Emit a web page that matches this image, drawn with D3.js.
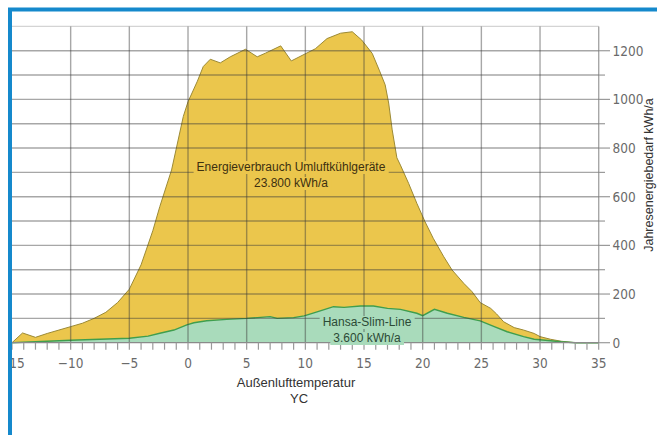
<!DOCTYPE html>
<html>
<head>
<meta charset="utf-8">
<script src="https://cdn.jsdelivr.net/npm/d3@7"></script>
<style>
  body { margin: 0; background: #fff; }
  .tick-num { font-family: "Liberation Sans Narrow", "DejaVu Sans Condensed", "Roboto Condensed", sans-serif; font-stretch: condensed; }
</style>
</head>
<body>
<div id="chart"></div>
<script>
// Umluftkühlgeräte (yellow): temperature / kWh per year
const yellowTemps = [-15, -14.1, -13, -12, -11, -10, -9, -8, -7, -6, -5, -4, -3, -2.4, -1.4, -0.4, 0, 0.8, 1.3, 1.9, 2.75, 3.6, 4.9, 5.9, 6.6, 7.9, 8.8, 9.9, 10.85, 11.85, 13, 14, 14.8, 15.7, 16.3, 16.8, 17.1, 17.4, 17.8, 18.1, 18.8, 19.5, 20.2, 20.9, 21.8, 22.5, 23.5, 24.2, 24.9, 25.8, 26.3, 26.9, 27.8, 28.6, 29.5, 30, 30.9, 31.8, 32.6, 33, 35];
const yellowValues = [0, 40, 22, 38, 52, 66, 80, 100, 125, 165, 220, 320, 460, 560, 710, 930, 990, 1075, 1135, 1165, 1150, 1175, 1206, 1175, 1190, 1220, 1158, 1185, 1208, 1250, 1272, 1278, 1244, 1189, 1120, 1060, 985, 875, 760, 730, 655, 573, 497, 429, 353, 299, 244, 210, 165, 141, 118, 86, 62, 52, 38, 25, 14, 6, 2, 0, 0];

// Hansa-Slim-Line (green)
const greenTemps = [-15, -10, -5, -3.4, -2.4, -1.2, -0.1, 0.5, 1.6, 3.3, 5, 7, 7.6, 9, 9.9, 11, 12.4, 13.3, 14.7, 15.8, 17, 18.1, 19.5, 20, 21, 22.1, 23.5, 24.9, 26.1, 27.2, 28.6, 29.5, 30, 30.9, 31.8, 33, 35];
const greenValues = [0, 10, 18, 27, 39, 52, 73, 82, 90, 96, 100, 107, 100, 103, 110, 127, 148, 145, 151, 151, 141, 137, 121, 111, 137, 121, 104, 90, 66, 45, 25, 14, 12, 8, 4, 0, 0];

const xTicks = [-15, -10, -5, 0, 5, 10, 15, 20, 25, 30, 35];
const yTicks = [0, 200, 400, 600, 800, 1000, 1200];

const width = 657, height = 435;
const svg = d3.select("#chart").append("svg")
    .attr("width", width)
    .attr("height", height);

const x = d3.scaleLinear().domain([-15, 35]).range([12, 598.7]);
const y = d3.scaleLinear().domain([0, 1300]).range([342.7, 26.4]);

const yellow = yellowTemps.map((t, i) => ({ t, v: yellowValues[i] }));
const green = greenTemps.map((t, i) => ({ t, v: greenValues[i] }));

const area = d3.area().x(d => x(d.t)).y0(y(0)).y1(d => y(d.v));
const line = d3.line().x(d => x(d.t)).y(d => y(d.v));

// filled areas
svg.append("path").datum(yellow).attr("d", area).attr("fill", "#ebc64c");
svg.append("path").datum(yellow).attr("d", line)
    .attr("fill", "none").attr("stroke", "#9c8a35").attr("stroke-width", 1);
svg.append("path").datum(green).attr("d", area).attr("fill", "#a9dbbb");
svg.append("path").datum(green).attr("d", line)
    .attr("fill", "none").attr("stroke", "#3f9e4e").attr("stroke-width", 1.4);

// grid on top of the areas
const gridColor = "rgba(60,60,60,0.45)";
const grid = svg.append("g");
grid.selectAll(".h").data(d3.range(100, 1301, 100)).enter().append("line")
    .attr("x1", x(-15)).attr("x2", x(35))
    .attr("y1", d => y(d)).attr("y2", d => y(d))
    .attr("stroke", d => d === 1300 ? "rgba(60,60,60,0.22)" : gridColor)
    .attr("stroke-width", 1.4);
grid.selectAll(".v").data(xTicks.slice(1)).enter().append("line")
    .attr("x1", d => x(d)).attr("x2", d => x(d))
    .attr("y1", y(1300)).attr("y2", y(0))
    .attr("stroke", gridColor).attr("stroke-width", 1.4);

// x axis line and minor ticks
svg.append("line")
    .attr("x1", x(-15)).attr("x2", x(35)).attr("y1", y(0)).attr("y2", y(0))
    .attr("stroke", "#8a8a8a").attr("stroke-width", 1.2);
svg.append("g").selectAll("line").data(d3.range(-15, 36, 1)).enter().append("line")
    .attr("x1", d => x(d)).attr("x2", d => x(d))
    .attr("y1", y(0)).attr("y2", y(0) + 7)
    .attr("stroke", "#9a9a9a").attr("stroke-width", 1.2);

svg.append("g").selectAll("text").data(xTicks).enter().append("text")
    .attr("class", "tick-num")
    .attr("x", d => x(d)).attr("y", 368)
    .attr("text-anchor", "middle")
    .attr("font-size", 13.5).attr("fill", "#6a6a6a")
    .text(d => d < 0 ? "\u2212" + Math.abs(d) : d);

// y axis ticks on the right
svg.append("g").selectAll("line").data(d3.range(0, 1201, 100)).enter().append("line")
    .attr("x1", x(35)).attr("x2", d => d % 200 === 0 ? 610 : 605)
    .attr("y1", d => y(d)).attr("y2", d => y(d))
    .attr("stroke", "#9a9a9a").attr("stroke-width", 1.2);
svg.append("g").selectAll("text").data(yTicks).enter().append("text")
    .attr("class", "tick-num")
    .attr("x", 612.5).attr("y", d => y(d) + 5)
    .attr("font-size", 13.5).attr("fill", "#6a6a6a")
    .text(d => d);

// axis titles
const titleFont = "Liberation Sans, Arial, sans-serif";
svg.append("text").attr("x", 296).attr("y", 387)
    .attr("text-anchor", "middle").attr("font-family", titleFont)
    .attr("font-size", 13).attr("fill", "#333").text("Außenlufttemperatur");
svg.append("text").attr("x", 299).attr("y", 403)
    .attr("text-anchor", "middle").attr("font-family", titleFont)
    .attr("font-size", 13).attr("fill", "#333").text("YC");
svg.append("text")
    .attr("transform", "translate(653,175) rotate(-90)")
    .attr("text-anchor", "middle").attr("font-family", titleFont)
    .attr("font-size", 12.5).attr("fill", "#333").text("Jahresenergiebedarf kWh/a");

// area labels with a background in the fill colour
function label(lines, cx, cy, bg, color) {
    const g = svg.append("g");
    const texts = lines.map((s, i) => g.append("text")
        .attr("x", cx).attr("y", cy + i * 16)
        .attr("text-anchor", "middle").attr("font-family", titleFont)
        .attr("font-size", 12).attr("fill", color).text(s));
    texts.forEach(t => {
        const b = t.node().getBBox();
        g.insert("rect", "text")
            .attr("x", b.x - 3).attr("y", b.y + 1)
            .attr("width", b.width + 6).attr("height", b.height - 1)
            .attr("fill", bg);
    });
}
label(["Energieverbrauch Umluftkühlgeräte", "23.800 kWh/a"], 291, 171, "#ebc64c", "#3d3010");
label(["Hansa-Slim-Line", "3.600 kWh/a"], 367, 326, "#a9dbbb", "#2c4a36");

// white margin outside the frame, then the blue frame
svg.append("rect").attr("x", 0).attr("y", 0).attr("width", 10).attr("height", height).attr("fill", "#fff");
svg.append("path")
    .attr("d", "M10,435 V9.5 H657")
    .attr("fill", "none").attr("stroke", "#1589cc").attr("stroke-width", 4);
</script>
</body>
</html>
